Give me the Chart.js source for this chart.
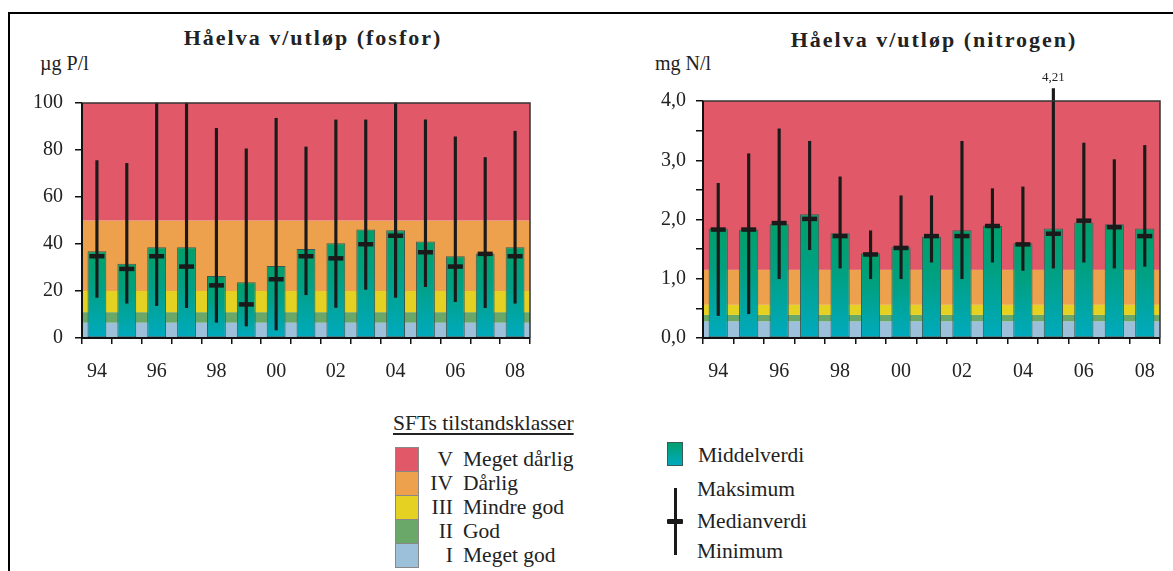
<!DOCTYPE html>
<html>
<head>
<meta charset="utf-8">
<script src="https://cdn.jsdelivr.net/npm/chart.js@4.4.1/dist/chart.umd.min.js"></script>
<style>
  body { margin: 0; background: #fff; font-family: "Liberation Serif", "Times New Roman", Times, "DejaVu Serif", serif; color: #222; }
  #page { position: relative; width: 1173px; height: 571px; overflow: hidden; }
  #frame { position: absolute; left: 8px; top: 12px; width: 1200px; height: 600px; border-top: 2px solid #000; border-left: 2px solid #000; }
  canvas { position: absolute; }
  .t { position: absolute; white-space: nowrap; }
  .title { font-weight: bold; font-size: 22px; letter-spacing: 2px; transform: translateX(-50%); }
  .unit { font-size: 20px; }
  .leg { font-size: 21.5px; line-height: 24px; }
</style>
</head>
<body>
<div id="page">
  <div id="frame"></div>
  <div class="t title" style="left:313px; top:25px;">Håelva v/utløp (fosfor)</div>
  <div class="t title" style="left:934px; top:27px;">Håelva v/utløp (nitrogen)</div>
  <div class="t unit" style="left:40px; top:52px;">µg P/l</div>
  <div class="t unit" style="left:655px; top:52px;">mg N/l</div>

  <canvas id="chart-fosfor" width="560" height="400" style="left:0px; top:0px; width:560px; height:400px;"></canvas>
  <canvas id="chart-nitrogen" width="553" height="400" style="left:620px; top:0px; width:553px; height:400px;"></canvas>

  <div class="t leg" style="left:393px; top:411px; text-decoration: underline; text-underline-offset: 3px;">SFTs tilstandsklasser</div>
  <div id="klasser"></div>

  <div style="position:absolute; left:667px; top:442px; width:14px; height:22px; border:1px solid #3c5a55; background:linear-gradient(#00a06e, #00aabe);"></div>
  <div class="t leg" style="left:698px; top:443px;">Middelverdi</div>
  <div style="position:absolute; left:674px; top:488px; width:2.5px; height:67px; background:#1a1a1a;"></div>
  <div style="position:absolute; left:667px; top:519px; width:16px; height:4.5px; background:#1a1a1a; border-radius:1px;"></div>
  <div class="t leg" style="left:697px; top:477px;">Maksimum</div>
  <div class="t leg" style="left:697px; top:509px;">Medianverdi</div>
  <div class="t leg" style="left:697px; top:539px;">Minimum</div>
</div>

<script>
const serif = '"Liberation Serif", "Times New Roman", Times, "DejaVu Serif", serif';

// år (1994 - 2008)
const aar = ['94','95','96','97','98','99','00','01','02','03','04','05','06','07','08'];

// fosfor, µg P/l
const pMiddel = [36.9, 31.6, 38.6, 38.6, 26.4, 23.7, 30.6, 37.9, 40.3, 46.2, 45.8, 41.1, 34.8, 36.0, 38.6];
const pMedian = [34.8, 29.4, 34.8, 30.4, 22.4, 14.3, 25.0, 34.8, 33.9, 39.9, 43.5, 36.5, 30.4, 35.8, 34.8];
const pMin    = [17.3, 14.8, 13.8, 12.9, 6.7, 5.1, 3.4, 18.4, 13.0, 20.7, 17.3, 21.8, 15.5, 12.9, 14.8];
const pMaks   = [75.5, 74.3, 100, 100, 89.2, 80.5, 93.5, 81.3, 92.8, 92.8, 100, 92.8, 85.6, 76.8, 88.0];

// nitrogen, mg N/l
const nMiddel = [1.85, 1.83, 1.92, 2.09, 1.77, 1.43, 1.53, 1.71, 1.82, 1.89, 1.60, 1.85, 1.95, 1.92, 1.85];
const nMedian = [1.83, 1.83, 1.94, 2.01, 1.72, 1.41, 1.52, 1.72, 1.72, 1.89, 1.58, 1.76, 1.98, 1.87, 1.72];
const nMin    = [0.38, 0.41, 1.00, 1.49, 1.18, 1.00, 1.00, 1.28, 1.00, 1.28, 1.14, 1.18, 1.28, 1.18, 1.21];
const nMaks   = [2.61, 3.11, 3.53, 3.32, 2.72, 1.81, 2.40, 2.40, 3.32, 2.52, 2.55, 4.21, 3.29, 3.01, 3.25];

// SFTs tilstandsklasser (I..V), grenser
const klasseNr = ['I', 'II', 'III', 'IV', 'V'];
const klasseNavn = ['Meget god', 'God', 'Mindre god', 'Dårlig', 'Meget dårlig'];
const klasseFarge = ['#9cc0da', '#6aa86a', '#e5d121', '#eea14c', '#e15969'];
const pGrenser = [0, 6.5, 11, 20, 50, 100];
const nGrenser = [0, 0.28, 0.39, 0.56, 1.15, 4.0];

// legend for klassene
let klasseHtml = '';
for (let i = 4; i >= 0; i--) {
  const top = 447 + (4 - i) * 24;
  klasseHtml += '<div style="position:absolute; left:395px; top:' + top + 'px; width:22px; height:23px; background:' + klasseFarge[i] + '; border:0.5px solid #888;"></div>';
  klasseHtml += '<div class="t leg" style="left:410px; width:43px; text-align:right; top:' + (top) + 'px;">' + klasseNr[i] + '</div>';
  klasseHtml += '<div class="t leg" style="left:463px; top:' + (top) + 'px;">' + klasseNavn[i] + '</div>';
}
document.getElementById('klasser').innerHTML = klasseHtml;

// bakgrunnsbånd + ramme
const baandPlugin = {
  id: 'baand',
  beforeDatasetsDraw(chart, args, opts) {
    const c = chart.ctx, a = chart.chartArea, y = chart.scales.y;
    c.save();
    for (let i = 0; i < 5; i++) {
      const y1 = y.getPixelForValue(opts.grenser[i]);
      const y2 = y.getPixelForValue(opts.grenser[i + 1]);
      c.fillStyle = klasseFarge[i];
      c.fillRect(a.left, y2, a.right - a.left, y1 - y2);
    }
    c.restore();
  },
  afterDatasetsDraw(chart) {
    const c = chart.ctx, a = chart.chartArea;
    c.save();
    c.strokeStyle = '#333';
    c.lineWidth = 1.5;
    c.beginPath();
    c.moveTo(a.left, a.top); c.lineTo(a.right, a.top); c.lineTo(a.right, a.bottom);
    c.stroke();
    c.strokeStyle = '#111';
    c.lineWidth = 2;
    c.beginPath();
    c.moveTo(a.left, a.top); c.lineTo(a.left, a.bottom); c.lineTo(a.right, a.bottom);
    c.stroke();
    c.restore();
  }
};

// verdi over maks-strek som går utenfor aksen
const etikettPlugin = {
  id: 'etikett',
  afterDatasetsDraw(chart, args, opts) {
    if (opts.indeks === undefined) return;
    const c = chart.ctx;
    const x = chart.scales.x.getPixelForValue(opts.indeks);
    const yy = chart.scales.y.getPixelForValue(opts.verdi);
    c.save();
    c.fillStyle = '#222';
    c.font = '13px ' + serif;
    c.textAlign = 'center';
    c.textBaseline = 'bottom';
    c.fillText(opts.tekst, x, yy - 4);
    c.restore();
  }
};

function barFarge(context) {
  const chart = context.chart;
  if (!chart.chartArea || context.parsed === undefined) return '#00a58f';
  const y = chart.scales.y;
  const top = y.getPixelForValue(context.parsed.y);
  const bunn = y.getPixelForValue(0);
  if (!isFinite(top) || !isFinite(bunn) || bunn - top < 1) return '#00a58f';
  const g = chart.ctx.createLinearGradient(0, top, 0, bunn);
  g.addColorStop(0, '#00a06a');
  g.addColorStop(0.4, '#00a082');
  g.addColorStop(1, '#00aabf');
  return g;
}

function lagChart(id, middel, median, min, maks, grenser, yOpts, yBredde, padding, etikett) {
  const ctx = document.getElementById(id).getContext('2d');
  return new Chart(ctx, {
    data: {
      labels: aar,
      datasets: [
        {
          type: 'line',
          data: median,
          showLine: false,
          pointStyle: 'line',
          pointRadius: 7.5,
          pointBorderWidth: 4.5,
          borderColor: '#1a1a1a',
          backgroundColor: '#1a1a1a',
          order: 1,
        },
        {
          type: 'bar',
          data: min.map((v, i) => [v, maks[i]]),
          backgroundColor: '#1a1a1a',
          borderWidth: 0,
          barThickness: 2.5,
          grouped: false,
          clip: false,
          order: 2,
        },
        {
          type: 'bar',
          data: middel,
          backgroundColor: barFarge,
          borderColor: '#3c5a55',
          borderWidth: 1,
          borderSkipped: false,
          barPercentage: 0.63,
          categoryPercentage: 1,
          grouped: false,
          order: 3,
        },
      ],
    },
    options: {
      responsive: false,
      animation: false,
      layout: { padding: padding },
      scales: {
        x: {
          offset: true,
          afterFit: s => { s.height = 50; },
          grid: { offset: true, drawOnChartArea: false, drawTicks: true, tickLength: 6, tickColor: '#111', lineWidth: 1.5 },
          border: { display: false },
          ticks: {
            autoSkip: false,
            maxRotation: 0,
            padding: 16,
            color: '#222',
            font: { family: serif, size: 20 },
            callback: (v, i) => (i % 2 === 0 ? aar[i] : ''),
          },
        },
        y: Object.assign({
          afterFit: s => { s.width = yBredde; },
          grid: { drawOnChartArea: false, drawTicks: true, tickLength: 7, tickColor: '#111', lineWidth: 1.5 },
          border: { display: false },
        }, yOpts),
      },
      plugins: {
        legend: { display: false },
        tooltip: { enabled: false },
        baand: { grenser: grenser },
        etikett: etikett,
      },
    },
    plugins: [baandPlugin, etikettPlugin],
  });
}

lagChart('chart-fosfor', pMiddel, pMedian, pMin, pMaks, pGrenser, {
  min: 0, max: 100,
  ticks: {
    stepSize: 20, padding: 12, color: '#222',
    font: { family: serif, size: 20 },
  },
}, 82, { top: 103, left: 0, right: 30, bottom: 12 }, {});

lagChart('chart-nitrogen', nMiddel, nMedian, nMin, nMaks, nGrenser, {
  min: 0, max: 4,
  ticks: {
    stepSize: 0.5, padding: 10, color: '#222',
    font: { family: serif, size: 20 },
    callback: v => (Math.abs(v - Math.round(v)) < 1e-6 ? v.toFixed(1).replace('.', ',') : ''),
  },
}, 83, { top: 101, left: 0, right: 13, bottom: 12 }, { indeks: 11, verdi: nMaks[11], tekst: '4,21' });
</script>
</body>
</html>
